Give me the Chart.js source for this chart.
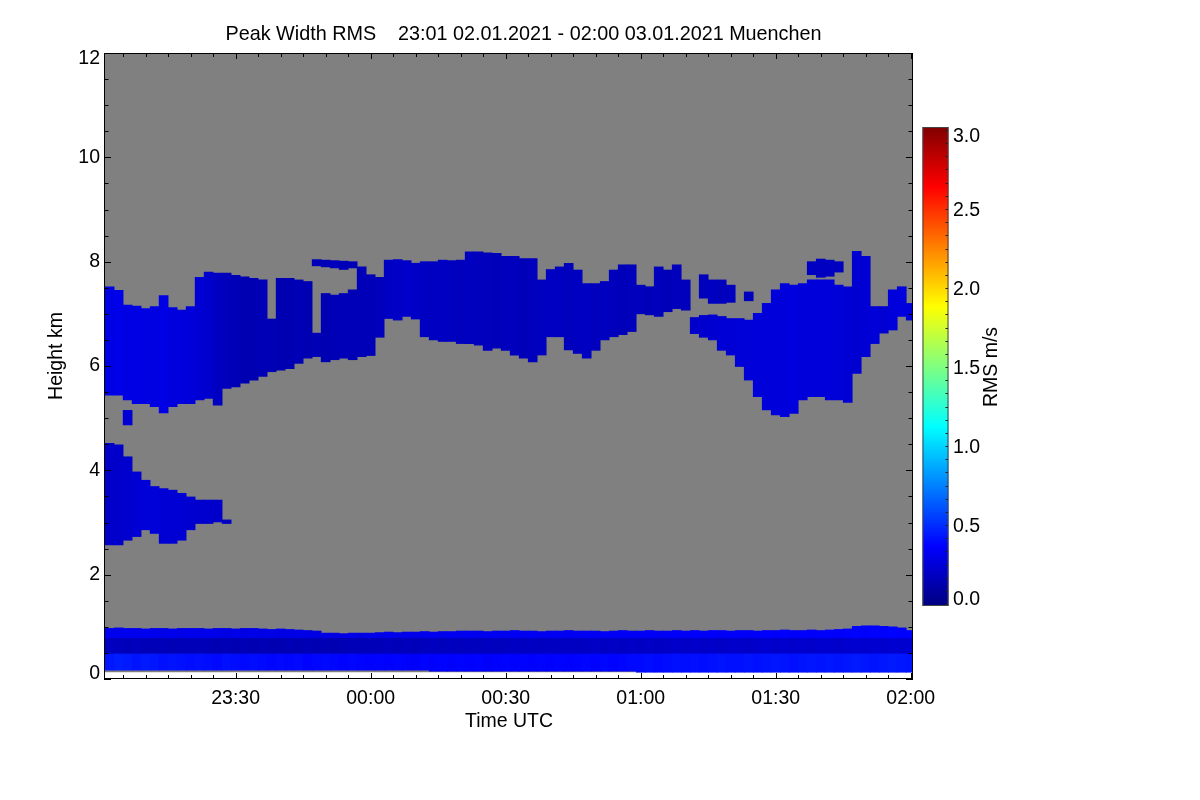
<!DOCTYPE html>
<html>
<head>
<meta charset="utf-8">
<script src="https://cdn.jsdelivr.net/npm/chart.js@4.4.0/dist/chart.umd.min.js"></script>
<style>
  html, body { margin: 0; padding: 0; background: #fff; }
</style>
</head>
<body>
<canvas id="myChart" width="1200" height="800"></canvas>
<script>
// time columns, minutes relative to 00:00 UTC 03.01.2021 (2 min bins)
const times = [
  -58, -56, -54, -52, -50, -48, -46, -44, -42, -40,
  -38, -36, -34, -32, -30, -28, -26, -24, -22, -20,
  -18, -16, -14, -12, -10, -8, -6, -4, -2, 0,
  2, 4, 6, 8, 10, 12, 14, 16, 18, 20,
  22, 24, 26, 28, 30, 32, 34, 36, 38, 40,
  42, 44, 46, 48, 50, 52, 54, 56, 58, 60,
  62, 64, 66, 68, 70, 72, 74, 76, 78, 80,
  82, 84, 86, 88, 90, 92, 94, 96, 98, 100,
  102, 104, 106, 108, 110, 112, 114, 116, 118, 120
];

// mid level cloud (km)
const cloudBase = [
  5.44, 5.44, 5.35, 5.28, 5.28, 5.22, 5.10, 5.22, 5.28, 5.28,
  5.35, 5.38, 5.25, 5.57, 5.60, 5.67, 5.73, 5.80, 5.89, 5.92,
  5.95, 6.05, 6.15, 6.18, 6.08, 6.12, 6.15, 6.12, 6.18, 6.20,
  6.55, 6.91, 6.88, 6.95, 6.90, 6.56, 6.50, 6.47, 6.47, 6.43,
  6.43, 6.40, 6.30, 6.34, 6.30, 6.21, 6.15, 6.08, 6.21, 6.56,
  6.56, 6.31, 6.24, 6.15, 6.30, 6.50, 6.56, 6.60, 6.66, 7.00,
  6.98, 6.95, 7.04, 7.10, 7.07, 6.62, 6.55, 6.50, 6.30, 6.21,
  5.99, 5.73, 5.41, 5.16, 5.06, 5.03, 5.09, 5.35, 5.41, 5.41,
  5.35, 5.35, 5.30, 5.86, 6.18, 6.43, 6.63, 6.69, 6.95, 6.88
];
const cloudTop = [
  7.52, 7.45, 7.17, 7.15, 7.10, 7.14, 7.35, 7.12, 7.07, 7.14,
  7.70, 7.80, 7.78, 7.78, 7.74, 7.71, 7.68, 7.65, 6.90, 7.68,
  7.68, 7.65, 7.62, 6.63, 7.39, 7.36, 7.39, 7.46, 7.90, 7.75,
  7.70, 8.03, 8.04, 8.02, 7.97, 8.00, 8.00, 8.03, 8.02, 8.03,
  8.19, 8.19, 8.17, 8.16, 8.10, 8.10, 8.06, 8.06, 7.65, 7.85,
  7.90, 7.97, 7.84, 7.58, 7.58, 7.62, 7.84, 7.94, 7.94, 7.55,
  7.52, 7.90, 7.84, 7.94, 7.65, 6.93, 6.97, 6.98, 6.95, 6.91,
  6.91, 6.88, 7.01, 7.20, 7.46, 7.58, 7.55, 7.58, 7.65, 7.65,
  7.65, 7.55, 7.52, 8.20, 8.10, 7.14, 7.14, 7.46, 7.52, 7.20
];
const cloudRms = [
  0.30, 0.31, 0.29, 0.30, 0.30, 0.29, 0.30, 0.28, 0.28, 0.27,
  0.25, 0.23, 0.20, 0.18, 0.16, 0.15, 0.15, 0.16, 0.16, 0.15,
  0.15, 0.16, 0.15, 0.16, 0.15, 0.16, 0.17, 0.16, 0.17, 0.17,
  0.18, 0.20, 0.21, 0.22, 0.21, 0.20, 0.19, 0.20, 0.19, 0.18,
  0.19, 0.18, 0.18, 0.17, 0.18, 0.18, 0.17, 0.18, 0.19, 0.20,
  0.19, 0.18, 0.19, 0.20, 0.18, 0.19, 0.18, 0.17, 0.18, 0.18,
  0.17, 0.18, 0.17, 0.18, 0.18, 0.22, 0.23, 0.24, 0.25, 0.25,
  0.26, 0.26, 0.27, 0.26, 0.27, 0.27, 0.28, 0.27, 0.27, 0.26,
  0.27, 0.26, 0.25, 0.24, 0.25, 0.26, 0.25, 0.27, 0.28, 0.27
];

// brighter cores inside the mid level cloud
const coreTimes = [
  -58, -56, -54, -52, -50, -48, -46, -44, -42, -40, -38, -36, -34, -32, -30,
  4, 6, 8, 10, 12, 14, 16, 18, 20, 22, 24, 26, 28, 30,
  90, 92, 94, 96, 98, 100, 102
];
const coreBase = [
  5.70, 5.70, 5.75, 5.80, 5.85, 5.90, 5.95, 6.00, 6.10, 6.15, 6.20, 6.25, 6.30, 6.30, 6.35,
  7.20, 7.22, 7.25, 7.25, 7.22, 7.20, 7.22, 7.25, 7.25, 7.28, 7.30, 7.28, 7.25, 7.25,
  6.30, 6.20, 6.30, 6.40, 6.50, 6.50, 6.55
];
const coreTop = [
  6.30, 6.25, 6.30, 6.35, 6.40, 6.45, 6.50, 6.55, 6.60, 6.65, 6.70, 6.75, 6.80, 6.80, 6.80,
  7.55, 7.58, 7.60, 7.55, 7.58, 7.60, 7.62, 7.60, 7.62, 7.65, 7.65, 7.62, 7.60, 7.58,
  7.20, 7.30, 7.35, 7.30, 7.30, 7.25, 7.20
];
const coreRms = [
  0.44, 0.46, 0.45, 0.44, 0.43, 0.42, 0.41, 0.40, 0.38, 0.37, 0.35, 0.33, 0.31, 0.29, 0.27,
  0.27, 0.28, 0.29, 0.28, 0.29, 0.28, 0.29, 0.30, 0.29, 0.28, 0.29, 0.28, 0.27, 0.28,
  0.36, 0.38, 0.39, 0.38, 0.37, 0.36, 0.35
];

// detached cloud pieces
const extraTimes = [-54, -12, -10, -8, -6, -4, 74, 76, 78, 80, 84, 98, 100, 102, 104];
const extraBase = [4.87, 7.92, 7.90, 7.88, 7.85, 7.88, 7.30, 7.20, 7.20, 7.22, 7.25, 7.75, 7.70, 7.72, 7.80];
const extraTop = [5.15, 8.04, 8.03, 8.02, 8.01, 8.00, 7.75, 7.65, 7.65, 7.55, 7.42, 8.00, 8.05, 8.03, 8.00];
const extraRms = [0.25, 0.17, 0.17, 0.18, 0.17, 0.17, 0.18, 0.19, 0.18, 0.19, 0.18, 0.20, 0.19, 0.20, 0.19];

// gaps inside the cloud (no signal)
const holeTimes = [-42, -36, -32];
const holeBase = [6.45, 7.00, 6.90];
const holeTop = [6.90, 7.55, 7.15];

// lower cloud 2.5 - 4.5 km
const lowTimes = [-58, -56, -54, -52, -50, -48, -46, -44, -42, -40, -38, -36, -34, -32];
const lowBase = [2.57, 2.57, 2.66, 2.73, 2.86, 2.79, 2.60, 2.60, 2.66, 2.86, 2.98, 2.98, 3.01, 2.98];
const lowTop = [4.52, 4.49, 4.26, 3.97, 3.81, 3.69, 3.65, 3.62, 3.56, 3.49, 3.43, 3.43, 3.43, 3.05];
const lowRms = [0.22, 0.22, 0.23, 0.25, 0.26, 0.26, 0.25, 0.25, 0.25, 0.24, 0.23, 0.23, 0.22, 0.20];
const lowCoreBase = [3.00, 2.95, 2.95, 3.00, 3.00, 3.00, 3.00, 3.05, 3.05, 3.10];
const lowCoreTop = [3.65, 3.65, 3.60, 3.60, 3.55, 3.50, 3.45, 3.40, 3.35, 3.30];
const lowCoreRms = [0.46, 0.48, 0.47, 0.45, 0.44, 0.42, 0.40, 0.38, 0.36, 0.34];

// boundary layer
const bllBase = [
  0.17, 0.17, 0.17, 0.17, 0.17, 0.17, 0.17, 0.17, 0.17, 0.17,
  0.17, 0.17, 0.17, 0.17, 0.17, 0.17, 0.17, 0.17, 0.17, 0.17,
  0.17, 0.17, 0.17, 0.17, 0.17, 0.17, 0.17, 0.17, 0.17, 0.17,
  0.17, 0.17, 0.17, 0.17, 0.17, 0.17, 0.15, 0.15, 0.15, 0.15,
  0.15, 0.15, 0.15, 0.15, 0.15, 0.15, 0.15, 0.15, 0.15, 0.15,
  0.15, 0.15, 0.15, 0.15, 0.15, 0.15, 0.15, 0.15, 0.15, 0.13,
  0.13, 0.13, 0.13, 0.13, 0.13, 0.13, 0.13, 0.13, 0.13, 0.13,
  0.13, 0.13, 0.13, 0.13, 0.13, 0.13, 0.13, 0.13, 0.13, 0.13,
  0.13, 0.13, 0.13, 0.13, 0.13, 0.13, 0.13, 0.13, 0.13, 0.13
];
const bllTop = [
  0.97, 0.98, 0.97, 0.97, 0.96, 0.97, 0.97, 0.96, 0.97, 0.97,
  0.97, 0.96, 0.97, 0.97, 0.96, 0.97, 0.97, 0.96, 0.95, 0.96,
  0.95, 0.94, 0.93, 0.92, 0.88, 0.88, 0.87, 0.88, 0.88, 0.88,
  0.89, 0.90, 0.89, 0.90, 0.90, 0.91, 0.90, 0.91, 0.91, 0.92,
  0.92, 0.92, 0.91, 0.92, 0.92, 0.93, 0.92, 0.92, 0.91, 0.92,
  0.92, 0.93, 0.92, 0.92, 0.92, 0.91, 0.92, 0.93, 0.92, 0.92,
  0.93, 0.92, 0.92, 0.93, 0.92, 0.93, 0.92, 0.93, 0.93, 0.92,
  0.93, 0.93, 0.92, 0.93, 0.93, 0.94, 0.93, 0.93, 0.94, 0.93,
  0.94, 0.95, 0.96, 1.01, 1.02, 1.02, 1.01, 1.00, 0.98, 0.93
];
const bllSplit = [0.48, 0.78]; // band edges inside the boundary layer
const bllLowRms = [
  0.44, 0.46, 0.45, 0.43, 0.45, 0.44, 0.42, 0.43, 0.42, 0.41,
  0.42, 0.41, 0.40, 0.42, 0.41, 0.40, 0.41, 0.40, 0.39, 0.40,
  0.39, 0.40, 0.38, 0.39, 0.40, 0.39, 0.38, 0.39, 0.38, 0.37,
  0.38, 0.37, 0.38, 0.37, 0.36, 0.38, 0.37, 0.38, 0.37, 0.38,
  0.37, 0.38, 0.36, 0.37, 0.38, 0.37, 0.38, 0.37, 0.38, 0.37,
  0.38, 0.37, 0.38, 0.39, 0.38, 0.39, 0.38, 0.39, 0.40, 0.40,
  0.41, 0.40, 0.41, 0.42, 0.41, 0.42, 0.41, 0.42, 0.43, 0.42,
  0.42, 0.43, 0.42, 0.43, 0.44, 0.43, 0.42, 0.43, 0.44, 0.43,
  0.44, 0.43, 0.44, 0.45, 0.44, 0.43, 0.44, 0.45, 0.44, 0.43
];
const bllMidRms = [
  0.19, 0.18, 0.17, 0.18, 0.17, 0.16, 0.17, 0.16, 0.17, 0.16,
  0.17, 0.16, 0.15, 0.16, 0.15, 0.16, 0.15, 0.16, 0.15, 0.15,
  0.16, 0.15, 0.16, 0.15, 0.16, 0.15, 0.16, 0.17, 0.16, 0.17,
  0.17, 0.18, 0.17, 0.18, 0.17, 0.18, 0.19, 0.18, 0.19, 0.18,
  0.19, 0.18, 0.19, 0.18, 0.19, 0.20, 0.19, 0.20, 0.19, 0.20,
  0.19, 0.20, 0.19, 0.20, 0.21, 0.20, 0.21, 0.20, 0.21, 0.20,
  0.21, 0.20, 0.21, 0.22, 0.21, 0.22, 0.21, 0.22, 0.21, 0.22,
  0.22, 0.21, 0.22, 0.23, 0.22, 0.23, 0.22, 0.23, 0.22, 0.23,
  0.23, 0.22, 0.23, 0.24, 0.23, 0.24, 0.23, 0.24, 0.23, 0.24
];
const bllUpRms = [
  0.33, 0.32, 0.33, 0.32, 0.33, 0.32, 0.31, 0.32, 0.31, 0.32,
  0.31, 0.32, 0.31, 0.30, 0.31, 0.30, 0.31, 0.30, 0.31, 0.30,
  0.30, 0.31, 0.30, 0.29, 0.30, 0.29, 0.30, 0.31, 0.30, 0.31,
  0.31, 0.32, 0.31, 0.32, 0.31, 0.32, 0.33, 0.32, 0.33, 0.32,
  0.33, 0.32, 0.33, 0.34, 0.33, 0.34, 0.33, 0.34, 0.33, 0.34,
  0.34, 0.33, 0.34, 0.35, 0.34, 0.35, 0.34, 0.35, 0.34, 0.35,
  0.35, 0.34, 0.35, 0.36, 0.35, 0.36, 0.35, 0.36, 0.35, 0.36,
  0.36, 0.35, 0.36, 0.37, 0.36, 0.37, 0.36, 0.37, 0.36, 0.37,
  0.37, 0.36, 0.37, 0.38, 0.37, 0.38, 0.37, 0.38, 0.37, 0.38
];

// axes
const xTickValues = [-30, 0, 30, 60, 90, 120];
const xTickLabels = ['23:30', '00:00', '00:30', '01:00', '01:30', '02:00'];
const yTickValues = [0, 2, 4, 6, 8, 10, 12];
const cbTickValues = [0, 0.5, 1, 1.5, 2, 2.5, 3];
const cbTickLabels = ['0.0', '0.5', '1.0', '1.5', '2.0', '2.5', '3.0'];

const X_MIN = -59.25, X_MAX = 120.5;
const Y_MIN = 0, Y_MAX = 12;
const GRAY_BOTTOM = 0.13;
const RMS_MAX = 3.0;
const NODATA = 'rgb(128,128,128)';
const FONT = '"Liberation Sans", Arial, Helvetica, sans-serif';
const FSIZE = 19.5;

function clamp01(v) { return Math.min(Math.max(v, 0), 1); }
function jet(v) {
  const t = clamp01(v / RMS_MAX);
  const r = clamp01(Math.min(4 * t - 1.5, -4 * t + 4.5));
  const g = clamp01(Math.min(4 * t - 0.5, -4 * t + 3.5));
  const b = clamp01(Math.min(4 * t + 0.5, -4 * t + 2.5));
  return 'rgb(' + Math.round(r * 255) + ',' + Math.round(g * 255) + ',' + Math.round(b * 255) + ')';
}

function floating(xs, lo, hi, rms) {
  const pts = [];
  xs.forEach((t, i) => {
    const a = typeof lo === 'number' ? lo : lo[i];
    const b = typeof hi === 'number' ? hi : hi[i];
    if (a == null || b == null) return;
    pts.push({ x: t, y: [a, b], v: Array.isArray(rms) ? rms[i] : rms });
  });
  return pts;
}

function layer(label, pts, color) {
  return {
    label: label,
    data: pts,
    backgroundColor: color || (ctx => jet(ctx.raw ? ctx.raw.v : 0)),
    borderWidth: 0,
    categoryPercentage: 1,
    barPercentage: 1,
    grouped: false
  };
}

const datasets = [
  layer('bll low', floating(times, bllBase, bllSplit[0], bllLowRms)),
  layer('bll mid', floating(times, bllSplit[0], bllSplit[1], bllMidRms)),
  layer('bll up', floating(times, bllSplit[1], bllTop, bllUpRms)),
  layer('low cloud', floating(lowTimes, lowBase, lowTop, lowRms)),
  layer('low core', floating(lowTimes, lowCoreBase, lowCoreTop, lowCoreRms)),
  layer('cloud', floating(times, cloudBase, cloudTop, cloudRms)),
  layer('core', floating(coreTimes, coreBase, coreTop, coreRms)),
  layer('extra', floating(extraTimes, extraBase, extraTop, extraRms)),
  layer('holes', floating(holeTimes, holeBase, holeTop, 0), NODATA)
];

// gray "no data" background of the measured range
const noDataBg = {
  id: 'noDataBg',
  beforeDatasetsDraw(chart) {
    const { ctx, chartArea: a, scales: { y } } = chart;
    const top = y.getPixelForValue(Y_MAX);
    const bottom = y.getPixelForValue(GRAY_BOTTOM);
    ctx.save();
    ctx.fillStyle = NODATA;
    ctx.fillRect(a.left, top, a.right - a.left, bottom - top);
    ctx.restore();
  }
};

// end labels of the height axis sit inside the frame, as in the original plot
const nudgeEndLabels = {
  id: 'nudgeEndLabels',
  beforeDraw(chart) {
    const items = chart.scales.y.getLabelItems();
    if (items._nudged || items.length < 2) return;
    items[0].options.translation[1] -= 5;
    items[items.length - 1].options.translation[1] += 6;
    items._nudged = true;
  }
};

// IDL style frame, inward ticks, titles and colour bar
const decorations = {
  id: 'decorations',
  afterDraw(chart) {
    const { ctx, chartArea: a, scales: { x, y } } = chart;
    ctx.save();
    ctx.strokeStyle = '#000';
    ctx.lineWidth = 1;
    ctx.strokeRect(a.left + 0.5, a.top + 0.5, a.right - a.left - 1, a.bottom - a.top - 1);

    ctx.beginPath();
    for (let m = -55; m <= X_MAX; m += 5) {
      const px = Math.round(x.getPixelForValue(m)) + 0.5;
      const len = m % 30 === 0 ? 6 : 4;
      ctx.moveTo(px, a.bottom); ctx.lineTo(px, a.bottom - len);
      ctx.moveTo(px, a.top); ctx.lineTo(px, a.top + len);
    }
    for (let h = 0; h <= Y_MAX; h += 0.5) {
      const py = Math.round(y.getPixelForValue(h)) + 0.5;
      const len = h % 2 === 0 ? 7 : 4.5;
      ctx.moveTo(a.left, py); ctx.lineTo(a.left + len, py);
      ctx.moveTo(a.right, py); ctx.lineTo(a.right - len, py);
    }
    ctx.stroke();

    ctx.fillStyle = '#000';
    ctx.textAlign = 'center';
    ctx.textBaseline = 'alphabetic';
    ctx.font = '19.8px ' + FONT;
    ctx.fillText('Peak Width RMS    23:01 02.01.2021 - 02:00 03.01.2021 Muenchen', 523.5, 40);
    ctx.font = FSIZE + 'px ' + FONT;
    ctx.fillText('Time UTC', 509, 727);

    ctx.save();
    ctx.translate(62, 356);
    ctx.rotate(-Math.PI / 2);
    ctx.fillText('Height km', 0, 0);
    ctx.restore();

    // colour bar
    const cb = { left: 922.5, right: 948.5, top: 127, bottom: 606 };
    const cbY = v => 604 - v * (474 / RMS_MAX);
    const grad = ctx.createLinearGradient(0, cb.bottom, 0, cb.top);
    [0, 0.125, 0.375, 0.625, 0.875, 1].forEach(s => grad.addColorStop(s, jet(s * RMS_MAX)));
    ctx.fillStyle = grad;
    ctx.fillRect(cb.left, cb.top, cb.right - cb.left, cb.bottom - cb.top);
    ctx.strokeStyle = '#444';
    ctx.strokeRect(cb.left + 0.5, cb.top + 0.5, cb.right - cb.left - 1, cb.bottom - cb.top - 1);
    ctx.strokeStyle = '#222';
    ctx.beginPath();
    for (let v = 0; v <= RMS_MAX + 1e-6; v += 0.5 / 6) {
      const py = Math.round(cbY(v)) + 0.5;
      ctx.moveTo(cb.right - 0.5, py); ctx.lineTo(cb.right - 3, py);
    }
    ctx.stroke();

    ctx.fillStyle = '#000';
    ctx.textAlign = 'left';
    ctx.textBaseline = 'middle';
    cbTickValues.forEach((v, i) => {
      const py = Math.min(Math.max(cbY(v), 135), 598) + 1.5;
      ctx.fillText(cbTickLabels[i], 953, py);
    });

    ctx.textAlign = 'center';
    ctx.textBaseline = 'alphabetic';
    ctx.translate(997, 367);
    ctx.rotate(-Math.PI / 2);
    ctx.fillText('RMS m/s', 0, 0);
    ctx.restore();
  }
};

const config = {
  type: 'bar',
  data: { datasets: datasets },
  options: {
    responsive: false,
    animation: false,
    devicePixelRatio: 1,
    layout: { padding: { left: 0, top: 53, right: 287, bottom: 0 } },
    plugins: {
      legend: { display: false },
      tooltip: { enabled: false },
      title: { display: false }
    },
    scales: {
      x: {
        type: 'linear',
        min: X_MIN,
        max: X_MAX,
        offset: false,
        grid: { display: false, drawTicks: false },
        border: { display: false },
        afterBuildTicks: s => { s.ticks = xTickValues.map(v => ({ value: v })); },
        afterFit: s => { s.height = 121; },
        ticks: {
          padding: 8,
          color: '#000',
          autoSkip: false,
          maxRotation: 0,
          font: { family: FONT, size: FSIZE },
          callback: v => xTickLabels[xTickValues.indexOf(v)]
        }
      },
      y: {
        type: 'linear',
        min: Y_MIN,
        max: Y_MAX,
        grid: { display: false, drawTicks: false },
        border: { display: false },
        afterBuildTicks: s => { s.ticks = yTickValues.map(v => ({ value: v })); },
        afterFit: s => { s.width = 104; },
        ticks: {
          padding: 4,
          color: '#000',
          font: { family: FONT, size: FSIZE },
          callback: v => String(v)
        }
      }
    }
  },
  plugins: [noDataBg, nudgeEndLabels, decorations]
};

const myChart = new Chart(document.getElementById('myChart').getContext('2d'), config);
</script>
</body>
</html>
